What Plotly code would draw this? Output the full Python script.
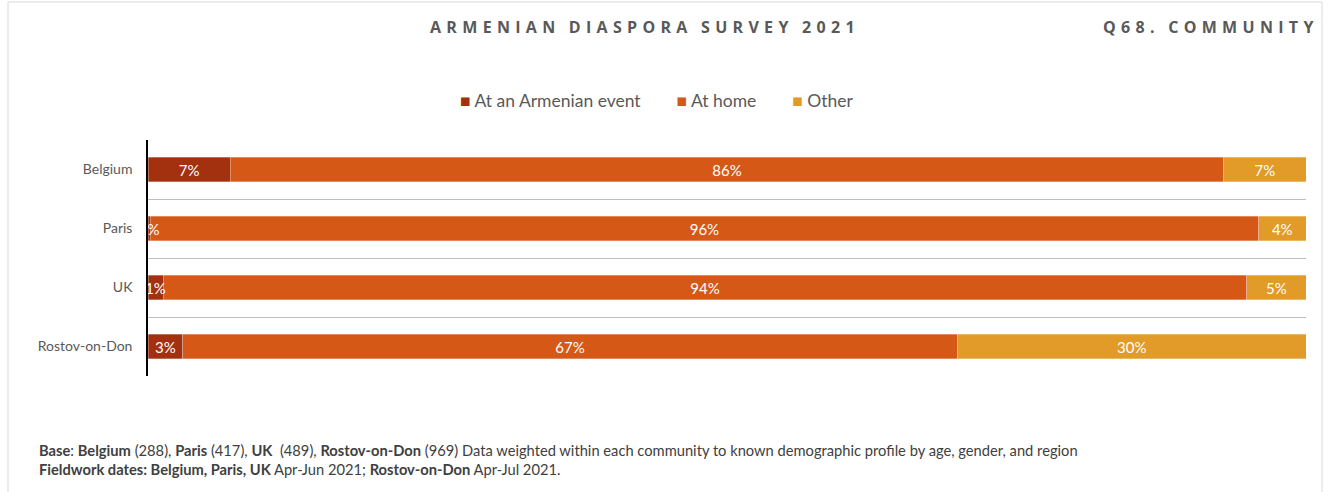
import plotly.graph_objects as go

# Data (percent of respondents)
communities = ["Belgium", "Paris", "UK", "Rostov-on-Don"]
series_names = ["At an Armenian event", "At home", "Other"]
armenian_event = [7.1, 0.2, 1.3, 3.0]
at_home = [85.8, 95.7, 93.6, 66.9]
other = [7.1, 4.1, 5.1, 30.1]
event_labels = ["7%", "0%", "1%", "3%"]
home_labels = ["86%", "96%", "94%", "67%"]
other_labels = ["7%", "4%", "5%", "30%"]

series_colors = ["#A3300F", "#D55817", "#E29A28"]

LABEL_FONT = dict(family="Lato, Open Sans, sans-serif", size=15, color="white")
EDGE = dict(color="rgba(255,255,255,0.5)", width=0.6)

fig = go.Figure()

fig.add_trace(go.Bar(
    y=communities, x=armenian_event, name=series_names[0], orientation="h",
    marker=dict(color=series_colors[0], line=EDGE), hoverinfo="x+y",
))
for name, vals, labels, color in zip(series_names[1:], [at_home, other],
                                     [home_labels, other_labels], series_colors[1:]):
    fig.add_trace(go.Bar(
        y=communities, x=vals, name=name, orientation="h",
        marker=dict(color=color, line=EDGE),
        text=labels, textposition="inside", insidetextanchor="middle",
        textangle=0, textfont=LABEL_FONT, hoverinfo="x+y",
    ))

# first segment is too thin for plotly's inside text: put the labels on a text
# trace (own numeric y axis, nudged to the bar-text baseline) clipped at the axis
fig.add_trace(go.Scatter(
    y=[i + 0.05 for i in range(len(communities))], x=[v / 2 for v in armenian_event],
    yaxis="y2", mode="text", text=event_labels, textposition="middle center",
    textfont=LABEL_FONT, showlegend=False, hoverinfo="skip", cliponaxis=True,
))


def spaced(s):
    # fake letter spacing for the headers
    return "\u2009\u2009".join(s).replace("\u2009\u2009 \u2009\u2009", "\u00a0\u00a0\u2009\u2009")


# legend drawn as one line of text so the swatch sits right next to its label
legend_text = ("\u00a0" * 8).join(
    f"<span style='color:{c}'>■</span> {n}" for n, c in zip(series_names, series_colors)
)

frame = dict(color="#D9D9D9", width=1)
left_px, right_px, top_px = 8, 1322, 2
fx = lambda px: (px - 148) / 1158
fy = lambda px: (376 - px) / 236

fig.update_layout(
    width=1330, height=492,
    barmode="stack", bargap=0.59,
    plot_bgcolor="white", paper_bgcolor="white",
    margin=dict(l=148, r=24, t=140, b=116),
    font=dict(family="Lato, Open Sans, sans-serif", color="#595959"),
    showlegend=False,
    xaxis=dict(range=[0, 100], showticklabels=False, showgrid=False, zeroline=False,
               showline=False, fixedrange=True),
    yaxis=dict(autorange="reversed", tickson="boundaries", showgrid=True,
               gridcolor="#BFBFBF", gridwidth=1, ticks="", ticklen=0,
               showline=True, linecolor="black", linewidth=1.5,
               tickfont=dict(size=14, color="#595959"), ticklabelstandoff=11),
    yaxis2=dict(overlaying="y", range=[len(communities) - 0.5, -0.5], visible=False,
                showgrid=False, zeroline=False),
    annotations=[
        dict(text=legend_text, xref="paper", yref="paper", x=fx(656), y=fy(100),
             xanchor="center", yanchor="middle", showarrow=False,
             font=dict(family="Lato, Open Sans, sans-serif", size=17.5, color="#595959")),
        dict(text="<b>" + spaced("ARMENIAN DIASPORA SURVEY 2021") + "</b>",
             xref="paper", yref="paper", x=fx(642), y=fy(27), xanchor="center",
             yanchor="middle", showarrow=False,
             font=dict(family="Open Sans, sans-serif", size=16, color="#595959")),
        dict(text="<b>" + spaced("Q68. COMMUNITY") + "</b>",
             xref="paper", yref="paper", x=fx(1315), y=fy(27), xanchor="right",
             yanchor="middle", showarrow=False,
             font=dict(family="Open Sans, sans-serif", size=16, color="#595959")),
        dict(text="<b>Base</b>: <b>Belgium</b> (288), <b>Paris</b> (417), <b>UK</b>  (489), "
                  "<b>Rostov-on-Don</b> (969) Data weighted within each community to known "
                  "demographic profile by age, gender, and region<br>"
                  "<b>Fieldwork dates: Belgium, Paris, UK</b> Apr-Jun 2021; "
                  "<b>Rostov-on-Don</b> Apr-Jul 2021.",
             xref="paper", yref="paper", x=fx(37), y=fy(439), xanchor="left",
             yanchor="top", align="left", showarrow=False,
             font=dict(family="Lato, Open Sans, sans-serif", size=14.7, color="#404040")),
    ],
    shapes=[
        dict(type="line", xref="paper", yref="paper", x0=fx(left_px), x1=fx(left_px),
             y0=fy(492), y1=fy(top_px), line=frame),
        dict(type="line", xref="paper", yref="paper", x0=fx(right_px), x1=fx(right_px),
             y0=fy(492), y1=fy(top_px), line=frame),
        dict(type="line", xref="paper", yref="paper", x0=fx(left_px), x1=fx(right_px),
             y0=fy(top_px), y1=fy(top_px), line=frame),
    ],
)

fig.write_html("out.html", config={"displayModeBar": False},
               post_script="document.body.style.margin='0';")
